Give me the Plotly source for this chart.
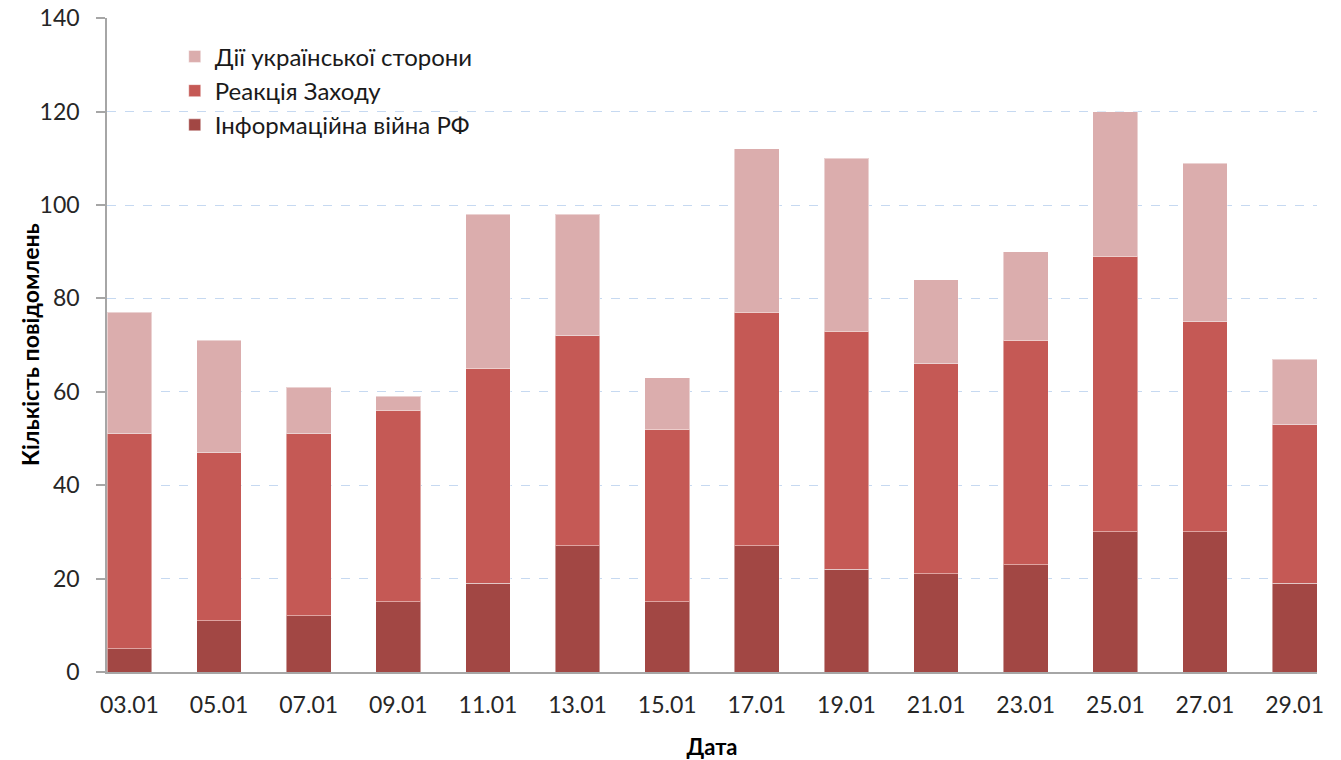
import plotly.graph_objects as go

dates = ["03.01", "05.01", "07.01", "09.01", "11.01", "13.01", "15.01",
         "17.01", "19.01", "21.01", "23.01", "25.01", "27.01", "29.01"]
# cumulative tops
info_war = [5, 11, 12, 15, 19, 27, 15, 27, 22, 21, 23, 30, 30, 19]
west_top = [51, 47, 51, 56, 65, 72, 52, 77, 73, 66, 71, 89, 75, 53]
total_top = [77, 71, 61, 59, 98, 98, 63, 112, 110, 84, 90, 120, 109, 67]

west = [w - i for w, i in zip(west_top, info_war)]
ukr = [t - w for t, w in zip(total_top, west_top)]

names = ["Інформаційна війна РФ", "Реакція Заходу", "Дії української сторони"]
colors = ["#A24744", "#C55955", "#DBADAD"]
series = [info_war, west, ukr]

FONT = "Lato"
fig = go.Figure()
for i, (nm, col, vals) in enumerate(zip(names, colors, series)):
    fig.add_trace(go.Bar(
        x=dates, y=vals, name=nm, width=0.5,
        marker=dict(color=col, line=dict(color="rgba(255,255,255,0.45)", width=1)),
        legendgroup=f"g{i}",
    ))

fig.update_layout(
    barmode="stack",
    width=1341, height=760,
    margin=dict(l=107, r=24, t=18, b=88, autoexpand=False),
    paper_bgcolor="white", plot_bgcolor="white",
    font=dict(family=FONT, size=23, color="#262626"),
    legend=dict(x=0.056, y=0.975, xanchor="left", yanchor="top",
                font=dict(family=FONT, size=24, color="#1a1a1a"),
                bgcolor="rgba(0,0,0,0)", tracegroupgap=8, traceorder="reversed"),
    showlegend=True,
    annotations=[dict(
        text="<b>Кількість повідомлень</b>", textangle=-90,
        xref="paper", yref="paper", x=0, y=0.5, xanchor="center", yanchor="middle",
        xshift=-77, showarrow=False,
        font=dict(family=FONT, size=23, color="black"),
    )],
)
fig.update_xaxes(
    type="category", range=[-0.25, 13.25],
    showline=True, linecolor="#A6A6A6", linewidth=1.5,
    ticks="outside", ticklen=12, tickcolor="rgba(0,0,0,0)",
    showgrid=False, automargin=False,
    tickfont=dict(family=FONT, size=23, color="#262626"),
    title=dict(text="<b>Дата</b>", font=dict(family=FONT, size=22, color="black"), standoff=24),
)
fig.update_yaxes(
    range=[0, 140.05], tickmode="array", tickvals=[0, 20, 40, 60, 80, 100, 120, 140],
    showline=True, linecolor="#A6A6A6", linewidth=1.5,
    ticks="outside", ticklen=9, tickcolor="#A6A6A6", tickwidth=1.5,
    ticklabelstandoff=12, ticklabeloverflow="allow",
    showgrid=True, gridcolor="#C6D9F1", griddash="dash", gridwidth=1,
    zeroline=False, automargin=False,
    tickfont=dict(family=FONT, size=23, color="#262626"),
)

fig.write_html(
    "out.html",
    config={"displayModeBar": False},
    post_script="document.body.style.margin='0';document.body.style.overflow='hidden';",
)
